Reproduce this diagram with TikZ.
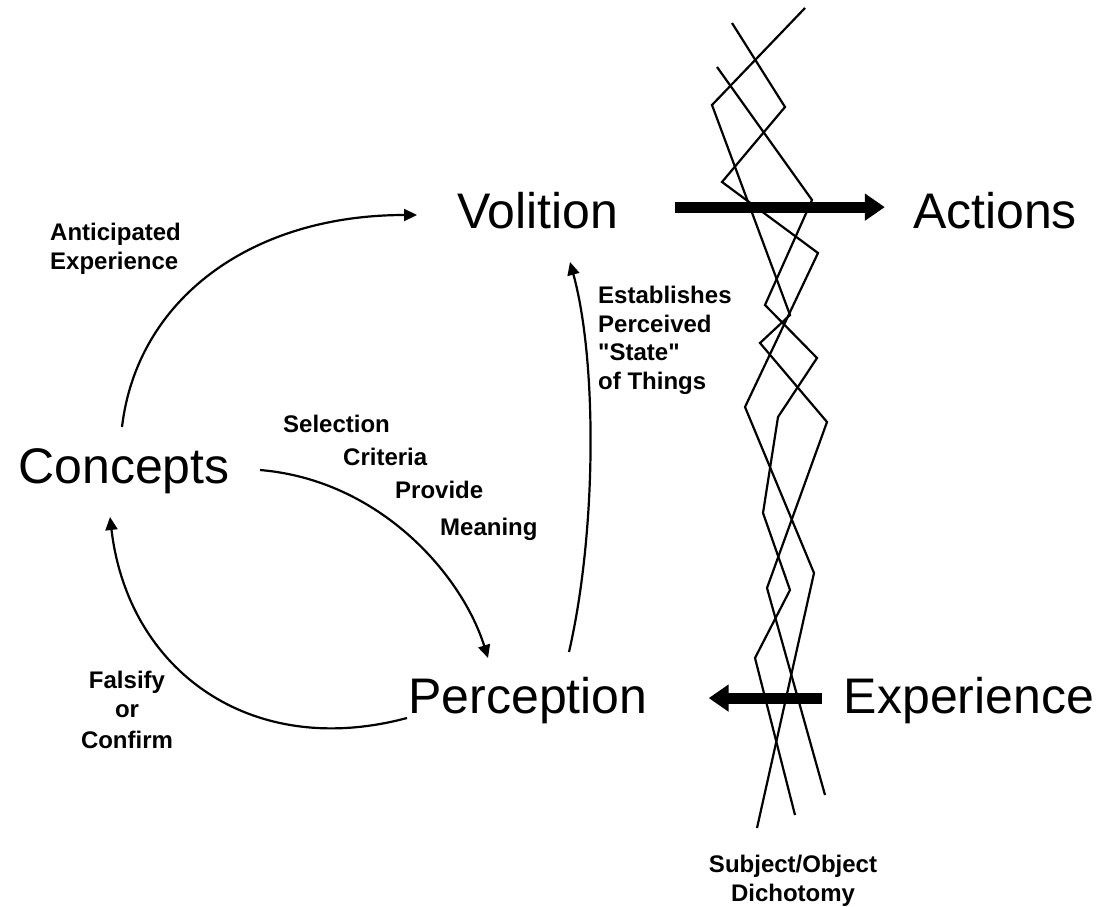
\documentclass[tikz,border=0pt]{standalone}
\usepackage{fontspec}
\setmainfont{Liberation Sans}
\usetikzlibrary{arrows.meta}
\begin{document}
\begin{tikzpicture}[x=1pt,y=-1pt,
  big/.style={font=\fontsize{50}{60}\selectfont, inner sep=0pt, anchor=base},
  lbl/.style={font=\bfseries\fontsize{24}{29}\selectfont, inner sep=0pt},
  flow/.style={line width=2.2pt, -{Triangle[length=13pt,width=12pt]}},
  push/.style={line width=11pt, -{Triangle[length=20pt,width=26pt]}},
  strand/.style={line width=2.2pt, line join=miter}]
\useasboundingbox (0,0) rectangle (1105,907);

% main concepts
\node[big] (volition)   at (538,228) {Volition};
\node[big] (actions)    at (995,228) {Actions};
\node[big] (concepts)   at (124,483) {Concepts};
\node[big] (perception) at (528,713) {Perception};
\node[big] (experience) at (969,713) {Experience};

% labels of the cycle
\node[lbl, anchor=base west] (ant1) at (50,240) {Anticipated};
\node[lbl, anchor=base west] (ant2) at (50,269) {Experience};
\node[lbl, anchor=base west] (sel) at (283,432) {Selection};
\node[lbl, anchor=base west] (cri) at (343,465) {Criteria};
\node[lbl, anchor=base west] (pro) at (395,498) {Provide};
\node[lbl, anchor=base west] (mea) at (440,535) {Meaning};
\node[lbl, anchor=base west] (est1) at (598,303) {Establishes};
\node[lbl, anchor=base west] (est2) at (598,332) {Perceived};
\node[lbl, anchor=base west] (est3) at (598,360) {\textquotedbl State\textquotedbl};
\node[lbl, anchor=base west] (est4) at (598,389) {of Things};
\node[lbl, anchor=base] (fal1) at (127,688) {Falsify};
\node[lbl, anchor=base] (fal2) at (127,717) {or};
\node[lbl, anchor=base] (fal3) at (127,748) {Confirm};
\node[lbl, anchor=base] (sub1) at (793,872) {Subject/Object};
\node[lbl, anchor=base] (sub2) at (793,901) {Dichotomy};

% connector ports
\coordinate (conc-up)   at (122,427);
\coordinate (conc-rt)   at (260,470);
\coordinate (conc-in)   at (110,517);
\coordinate (vol-in)    at (417,215);
\coordinate (vol-low)   at (570,262);
\coordinate (perc-top)  at (488,658);
\coordinate (perc-up)   at (569,652);
\coordinate (perc-left) at (407,718);

% the cycle
\draw[flow] (conc-up) .. controls (137,300) and (250,215) .. (vol-in);
\draw[flow] (conc-rt) .. controls (380,480) and (462,575) .. (perc-top);
\draw[flow] (perc-left) .. controls (250,760) and (128,670) .. (conc-in);
\draw[flow] (perc-up) .. controls (597,530) and (597,360) .. (vol-low);

% braided subject/object boundary
\draw[strand] (805,8) -- (712,105) -- (790,315) -- (760,343) -- (827,422) -- (767,588) -- (825,795);
\draw[strand] (732,23) -- (785,107) -- (722,182) -- (818,253) -- (745,407) -- (814,573) -- (757,828);
\draw[strand] (717,67) -- (812,200) -- (765,305) -- (817,358) -- (778,417) -- (763,513) -- (790,590) -- (755,658) -- (795,815);

% heavy arrows across the boundary
\draw[push, shorten <=56pt, shorten >=28pt] ([yshift=3pt]volition.east) -- ([yshift=3pt]actions.west);
\draw[push, shorten <=22pt, shorten >=61pt] ([yshift=2pt]experience.west) -- ([yshift=2pt]perception.east);
\end{tikzpicture}
\end{document}
